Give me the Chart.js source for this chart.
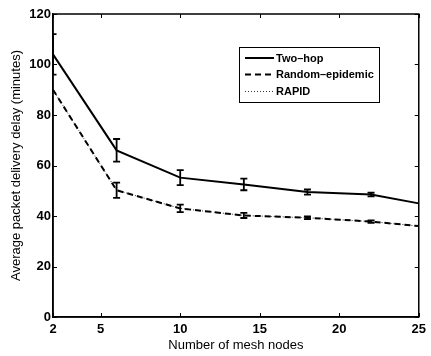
<!DOCTYPE html>
<html>
<head>
<meta charset="utf-8">
<script src="https://cdn.jsdelivr.net/npm/chart.js@4"></script>
<style>
  html, body { margin: 0; padding: 0; background: #fff; }
  #wrap { width: 431px; height: 356px; }
</style>
</head>
<body>
<div id="wrap"><canvas id="c" width="431" height="356"></canvas></div>
<script>
// ---- data ----
const meshNodes = [2, 6, 10, 14, 18, 22, 25];
const twoHop = [104, 66, 55.2, 52.5, 49.5, 48.5, 45.0];
const twoHopErr = [8, 4.5, 3, 2.3, 1, 0.7, 0];
const randomEpidemic = [90, 50.2, 43.0, 40.2, 39.3, 37.8, 36.0];
const randomEpidemicErr = [0, 3, 1.5, 1, 0.5, 0.5, 0];
const rapid = [90, 50.2, 43.0, 40.2, 39.3, 37.8, 36.0];
const xTickValues = [2, 5, 10, 15, 20, 25];
const yTickValues = [0, 20, 40, 60, 80, 100, 120];
const seriesLabels = ['Two–hop', 'Random–epidemic', 'RAPID'];
const xTitle = 'Number of mesh nodes';
const yTitle = 'Average packet delivery delay (minutes)';

const FONT = "'Liberation Sans', Arial, Helvetica, sans-serif";

function pts(ys) { return meshNodes.map((x, i) => ({ x: x, y: ys[i] })); }

const errorBars = {
  id: 'errorBars',
  afterDatasetsDraw(chart) {
    const { ctx, chartArea, scales } = chart;
    const sets = [[twoHop, twoHopErr], [randomEpidemic, randomEpidemicErr]];
    ctx.save();
    ctx.beginPath();
    ctx.rect(chartArea.left, chartArea.top, chartArea.right - chartArea.left, chartArea.bottom - chartArea.top);
    ctx.clip();
    ctx.strokeStyle = '#000';
    ctx.lineWidth = 1.8;
    ctx.setLineDash([]);
    sets.forEach(([vals, errs]) => {
      vals.forEach((v, i) => {
        const e = errs[i];
        if (!e) return;
        const x = scales.x.getPixelForValue(meshNodes[i]);
        const y1 = scales.y.getPixelForValue(v + e);
        const y2 = scales.y.getPixelForValue(v - e);
        ctx.beginPath();
        ctx.moveTo(x, y1); ctx.lineTo(x, y2);
        ctx.moveTo(x - 3.5, y1); ctx.lineTo(x + 3.5, y1);
        ctx.moveTo(x - 3.5, y2); ctx.lineTo(x + 3.5, y2);
        ctx.stroke();
      });
    });
    ctx.restore();
  }
};

const boxAndTicks = {
  id: 'boxAndTicks',
  afterDraw(chart) {
    const { ctx, chartArea: a, scales } = chart;
    ctx.save();
    ctx.strokeStyle = '#000';
    ctx.lineWidth = 1.5;
    ctx.setLineDash([]);
    ctx.strokeRect(a.left, a.top, a.right - a.left, a.bottom - a.top);
    const L = 4;
    ctx.lineWidth = 1;
    ctx.beginPath();
    scales.x.ticks.forEach(t => {
      const x = Math.round(scales.x.getPixelForValue(t.value)) + 0.5;
      ctx.moveTo(x, a.bottom); ctx.lineTo(x, a.bottom - L);
      ctx.moveTo(x, a.top); ctx.lineTo(x, a.top + L);
    });
    scales.y.ticks.forEach(t => {
      const y = Math.round(scales.y.getPixelForValue(t.value)) + 0.5;
      ctx.moveTo(a.left, y); ctx.lineTo(a.left + L, y);
      ctx.moveTo(a.right, y); ctx.lineTo(a.right - L, y);
    });
    ctx.stroke();

    // legend
    const ds = chart.data.datasets;
    const bx = 239, by = 47, bw = 140, bh = 55;
    ctx.fillStyle = '#fff';
    ctx.fillRect(bx, by, bw, bh);
    ctx.lineWidth = 1;
    ctx.strokeRect(bx + 0.5, by + 0.5, bw, bh);
    const rows = [58, 74.5, 91.5];
    ctx.font = 'bold 11px ' + FONT;
    ctx.textBaseline = 'middle';
    ctx.textAlign = 'left';
    ds.forEach((d, i) => {
      const y = rows[i];
      ctx.beginPath();
      ctx.strokeStyle = d.borderColor;
      ctx.lineWidth = d.borderWidth;
      ctx.setLineDash(d.borderDash || []);
      ctx.moveTo(245, y); ctx.lineTo(274, y);
      ctx.stroke();
      ctx.setLineDash([]);
      ctx.fillStyle = '#000';
      ctx.fillText(d.label, 276, y + 0.5);
    });
    ctx.restore();
  }
};

new Chart(document.getElementById('c'), {
  type: 'line',
  data: {
    datasets: [
      { label: seriesLabels[0], data: pts(twoHop), borderColor: '#000', borderWidth: 2, pointRadius: 0, fill: false, tension: 0 },
      { label: seriesLabels[1], data: pts(randomEpidemic), borderColor: '#000', borderWidth: 2, borderDash: [6, 4], pointRadius: 0, fill: false, tension: 0 },
      { label: seriesLabels[2], data: pts(rapid), borderColor: '#333', borderWidth: 1, borderDash: [1, 2], pointRadius: 0, fill: false, tension: 0 }
    ]
  },
  options: {
    responsive: false,
    animation: false,
    devicePixelRatio: 1,
    layout: { autoPadding: false, padding: { top: 14, right: 4, left: 0, bottom: 0 } },
    plugins: { legend: { display: false }, tooltip: { enabled: false }, title: { display: false } },
    scales: {
      x: {
        type: 'linear', min: 2, max: 25,
        afterBuildTicks: s => { s.ticks = xTickValues.map(v => ({ value: v })); },
        afterFit: s => { s.height = 39; },
        grid: { display: false, drawTicks: false },
        border: { display: true, color: '#000', width: 1.5 },
        ticks: { color: '#000', padding: 5, font: { family: FONT, size: 13, weight: 'bold' }, maxRotation: 0, autoSkip: false },
        title: { display: true, text: xTitle, color: '#000', font: { family: FONT, size: 13 }, padding: { top: 0, bottom: 3 } }
      },
      y: {
        type: 'linear', min: 0, max: 120,
        afterBuildTicks: s => { s.ticks = yTickValues.map(v => ({ value: v })); },
        afterFit: s => { s.width = 53; },
        grid: { display: false, drawTicks: false },
        border: { display: true, color: '#000', width: 1.5 },
        ticks: { color: '#000', padding: 2, font: { family: FONT, size: 13, weight: 'bold' } },
        title: { display: true, text: yTitle, color: '#000', font: { family: FONT, size: 13 }, padding: { top: 9, bottom: 0 } }
      }
    }
  },
  plugins: [errorBars, boxAndTicks]
});
</script>
</body>
</html>
